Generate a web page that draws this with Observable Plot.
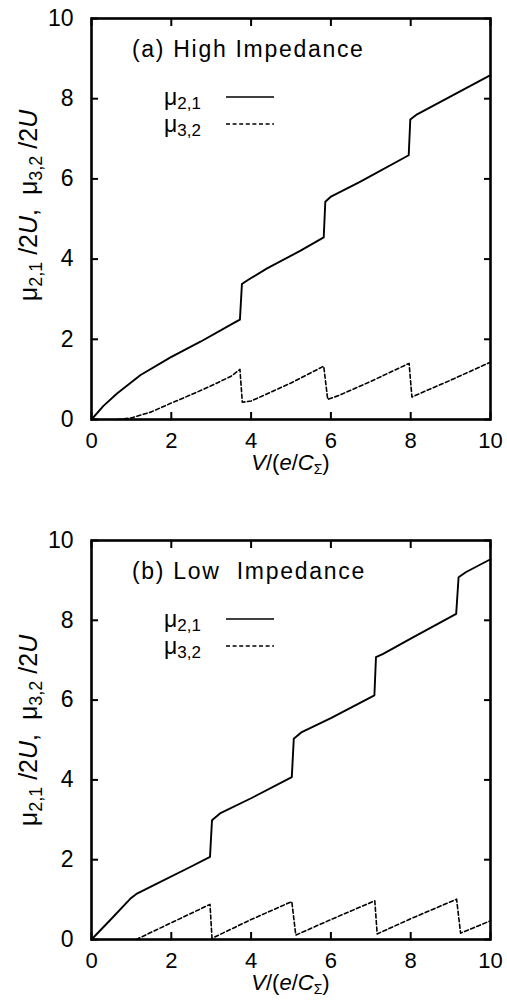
<!DOCTYPE html>
<html>
<head>
<meta charset="utf-8">
<script src="https://cdn.jsdelivr.net/npm/d3@7"></script>
<script src="https://cdn.jsdelivr.net/npm/@observablehq/plot@0.6"></script>
<style>
  html, body { margin: 0; padding: 0; background: #fff; }
  #chart { width: 507px; }
  #chart svg { display: block; font-family: "Liberation Sans", Arial, Helvetica, sans-serif; }
</style>
</head>
<body>
<div id="chart"></div>
<script>
// ---- data ----
const ticks = [0, 2, 4, 6, 8, 10];

// (a) High Impedance
const hiMu21V = [0, 0.3, 0.64, 1.23, 1.98, 2.73, 3.57, 3.72, 3.77, 3.94, 4.40, 5.24, 5.82, 5.86, 5.99, 6.74, 7.95, 7.99, 8.16, 10];
const hiMu21  = [0, 0.34, 0.65, 1.11, 1.55, 1.94, 2.41, 2.49, 3.38, 3.49, 3.77, 4.21, 4.54, 5.43, 5.55, 5.93, 6.59, 7.48, 7.61, 8.59];
const hiMu32V = [0.65, 1.0, 1.5, 2.0, 2.5, 3.0, 3.5, 3.72, 3.78, 4.0, 5.0, 5.82, 5.92, 6.2, 7.0, 7.96, 8.03, 8.3, 9.0, 10];
const hiMu32  = [0, 0.04, 0.19, 0.41, 0.62, 0.84, 1.08, 1.25, 0.43, 0.46, 0.91, 1.33, 0.50, 0.60, 0.95, 1.40, 0.56, 0.68, 0.98, 1.43];

// (b) Low Impedance
const loMu21V = [0, 0.5, 0.97, 1.14, 1.64, 2.5, 2.97, 3.02, 3.22, 4.0, 5.02, 5.07, 5.27, 6.0, 7.09, 7.13, 7.31, 8.0, 9.14, 9.2, 9.39, 10];
const loMu21  = [0, 0.52, 1.02, 1.15, 1.40, 1.83, 2.07, 2.99, 3.16, 3.54, 4.07, 5.03, 5.20, 5.55, 6.12, 7.08, 7.16, 7.54, 8.16, 9.08, 9.21, 9.53];
const loMu32V = [1.12, 2.0, 2.97, 3.02, 4.0, 5.02, 5.12, 6.0, 7.1, 7.16, 8.0, 9.15, 9.25, 10];
const loMu32  = [0, 0.42, 0.88, 0.03, 0.50, 0.95, 0.11, 0.50, 0.97, 0.14, 0.52, 1.01, 0.16, 0.47];

const panels = [
  { title: "(a) High Impedance", v21: hiMu21V, m21: hiMu21, v32: hiMu32V, m32: hiMu32,
    height: 480, marginTop: 18, marginBottom: 61, tickPad: 20, xLabelGap: 51, yLabelShift: -13 },
  { title: "(b) Low  Impedance", v21: loMu21V, m21: loMu21, v32: loMu32V, m32: loMu32,
    height: 523, marginTop: 60, marginBottom: 64, tickPad: 20, xLabelGap: 51, yLabelShift: -9 }
];

const FONT = 22;
const FAMILY = '"Liberation Sans", Arial, Helvetica, sans-serif';
const root = d3.select("#chart");

for (const p of panels) {
  const d21 = d3.zip(p.v21, p.m21).map(([v, m]) => ({v, m}));
  const d32 = d3.zip(p.v32, p.m32).map(([v, m]) => ({v, m}));
  const plot = Plot.plot({
    width: 507,
    height: p.height,
    marginLeft: 91,
    marginRight: 17,
    marginTop: p.marginTop,
    marginBottom: p.marginBottom,
    style: { fontFamily: FAMILY, color: "#000", background: "#fff" },
    x: { domain: [0, 10] },
    y: { domain: [0, 10] },
    marks: [
      Plot.axisX({ anchor: "bottom", ticks, tickSize: -7, tickPadding: p.tickPad, fontSize: FONT, strokeWidth: 2, label: null }),
      Plot.axisX({ anchor: "top", ticks, tickSize: -7, fill: "none", strokeWidth: 2, label: null }),
      Plot.axisY({ anchor: "left", ticks, tickSize: -7, tickPadding: 25, fontSize: 23, strokeWidth: 2, label: null }),
      Plot.axisY({ anchor: "right", ticks, tickSize: -7, fill: "none", strokeWidth: 2, label: null }),
      Plot.line(d32, { x: "v", y: "m", stroke: "#000", strokeWidth: 1.6, strokeDasharray: "4,2.6" }),
      Plot.line(d21, { x: "v", y: "m", stroke: "#000", strokeWidth: 1.9 }),
      Plot.frame({ stroke: "#000", strokeWidth: 2.6 })
    ]
  });
  root.node().appendChild(plot);

  const svg = d3.select(plot);
  const sx = plot.scale("x"), sy = plot.scale("y");
  const left = sx.apply(0), right = sx.apply(10), top = sy.apply(10), bottom = sy.apply(0);
  const midX = (left + right) / 2;
  const g = svg.append("g").attr("fill", "#000").attr("font-family", FAMILY);

  // panel title
  g.append("text").attr("x", left + 41).attr("y", top + 39)
    .attr("text-anchor", "start")
    .attr("font-size", 23).attr("letter-spacing", "1.7px").style("white-space", "pre")
    .text(p.title);

  // legend
  const legend = [
    { name: "2,1", dash: null, dy: 0 },
    { name: "3,2", dash: "4,2.6", dy: 27 }
  ];
  for (const L of legend) {
    const ly = top + 79 + L.dy;
    const t = g.append("text").attr("x", left + 73).attr("y", ly + 8)
      .attr("text-anchor", "start").attr("font-size", 23);
    t.append("tspan").text("μ");
    t.append("tspan").attr("font-size", 17).attr("dy", 4).text(L.name);
    const line = g.append("line").attr("x1", left + 135).attr("x2", left + 183)
      .attr("y1", ly).attr("y2", ly).attr("stroke", "#000").attr("stroke-width", 1.5);
    if (L.dash) line.attr("stroke-dasharray", L.dash);
  }

  // x-axis label
  const xl = g.append("text").attr("x", midX).attr("y", bottom + p.xLabelGap)
    .attr("text-anchor", "middle").attr("font-size", FONT);
  xl.append("tspan").attr("font-style", "italic").text("V");
  xl.append("tspan").text("/(");
  xl.append("tspan").attr("font-style", "italic").text("e");
  xl.append("tspan").text("/");
  xl.append("tspan").attr("font-style", "italic").text("C");
  xl.append("tspan").attr("font-size", 14).attr("dy", 4).text("Σ");
  xl.append("tspan").attr("dy", -4).text(")");

  // y-axis label
  const yl = g.append("text")
    .attr("transform", `translate(37,${(top + bottom) / 2 + p.yLabelShift}) rotate(-90)`)
    .attr("text-anchor", "middle").attr("font-size", 25).style("white-space", "pre");
  yl.append("tspan").text("μ");
  yl.append("tspan").attr("font-size", 18).attr("dy", 5).text("2,1");
  yl.append("tspan").attr("dy", -5).text(" /2");
  yl.append("tspan").attr("font-style", "italic").text("U");
  yl.append("tspan").text(",  μ");
  yl.append("tspan").attr("font-size", 18).attr("dy", 5).text("3,2");
  yl.append("tspan").attr("dy", -5).text(" /2");
  yl.append("tspan").attr("font-style", "italic").text("U");
}
</script>
</body>
</html>
